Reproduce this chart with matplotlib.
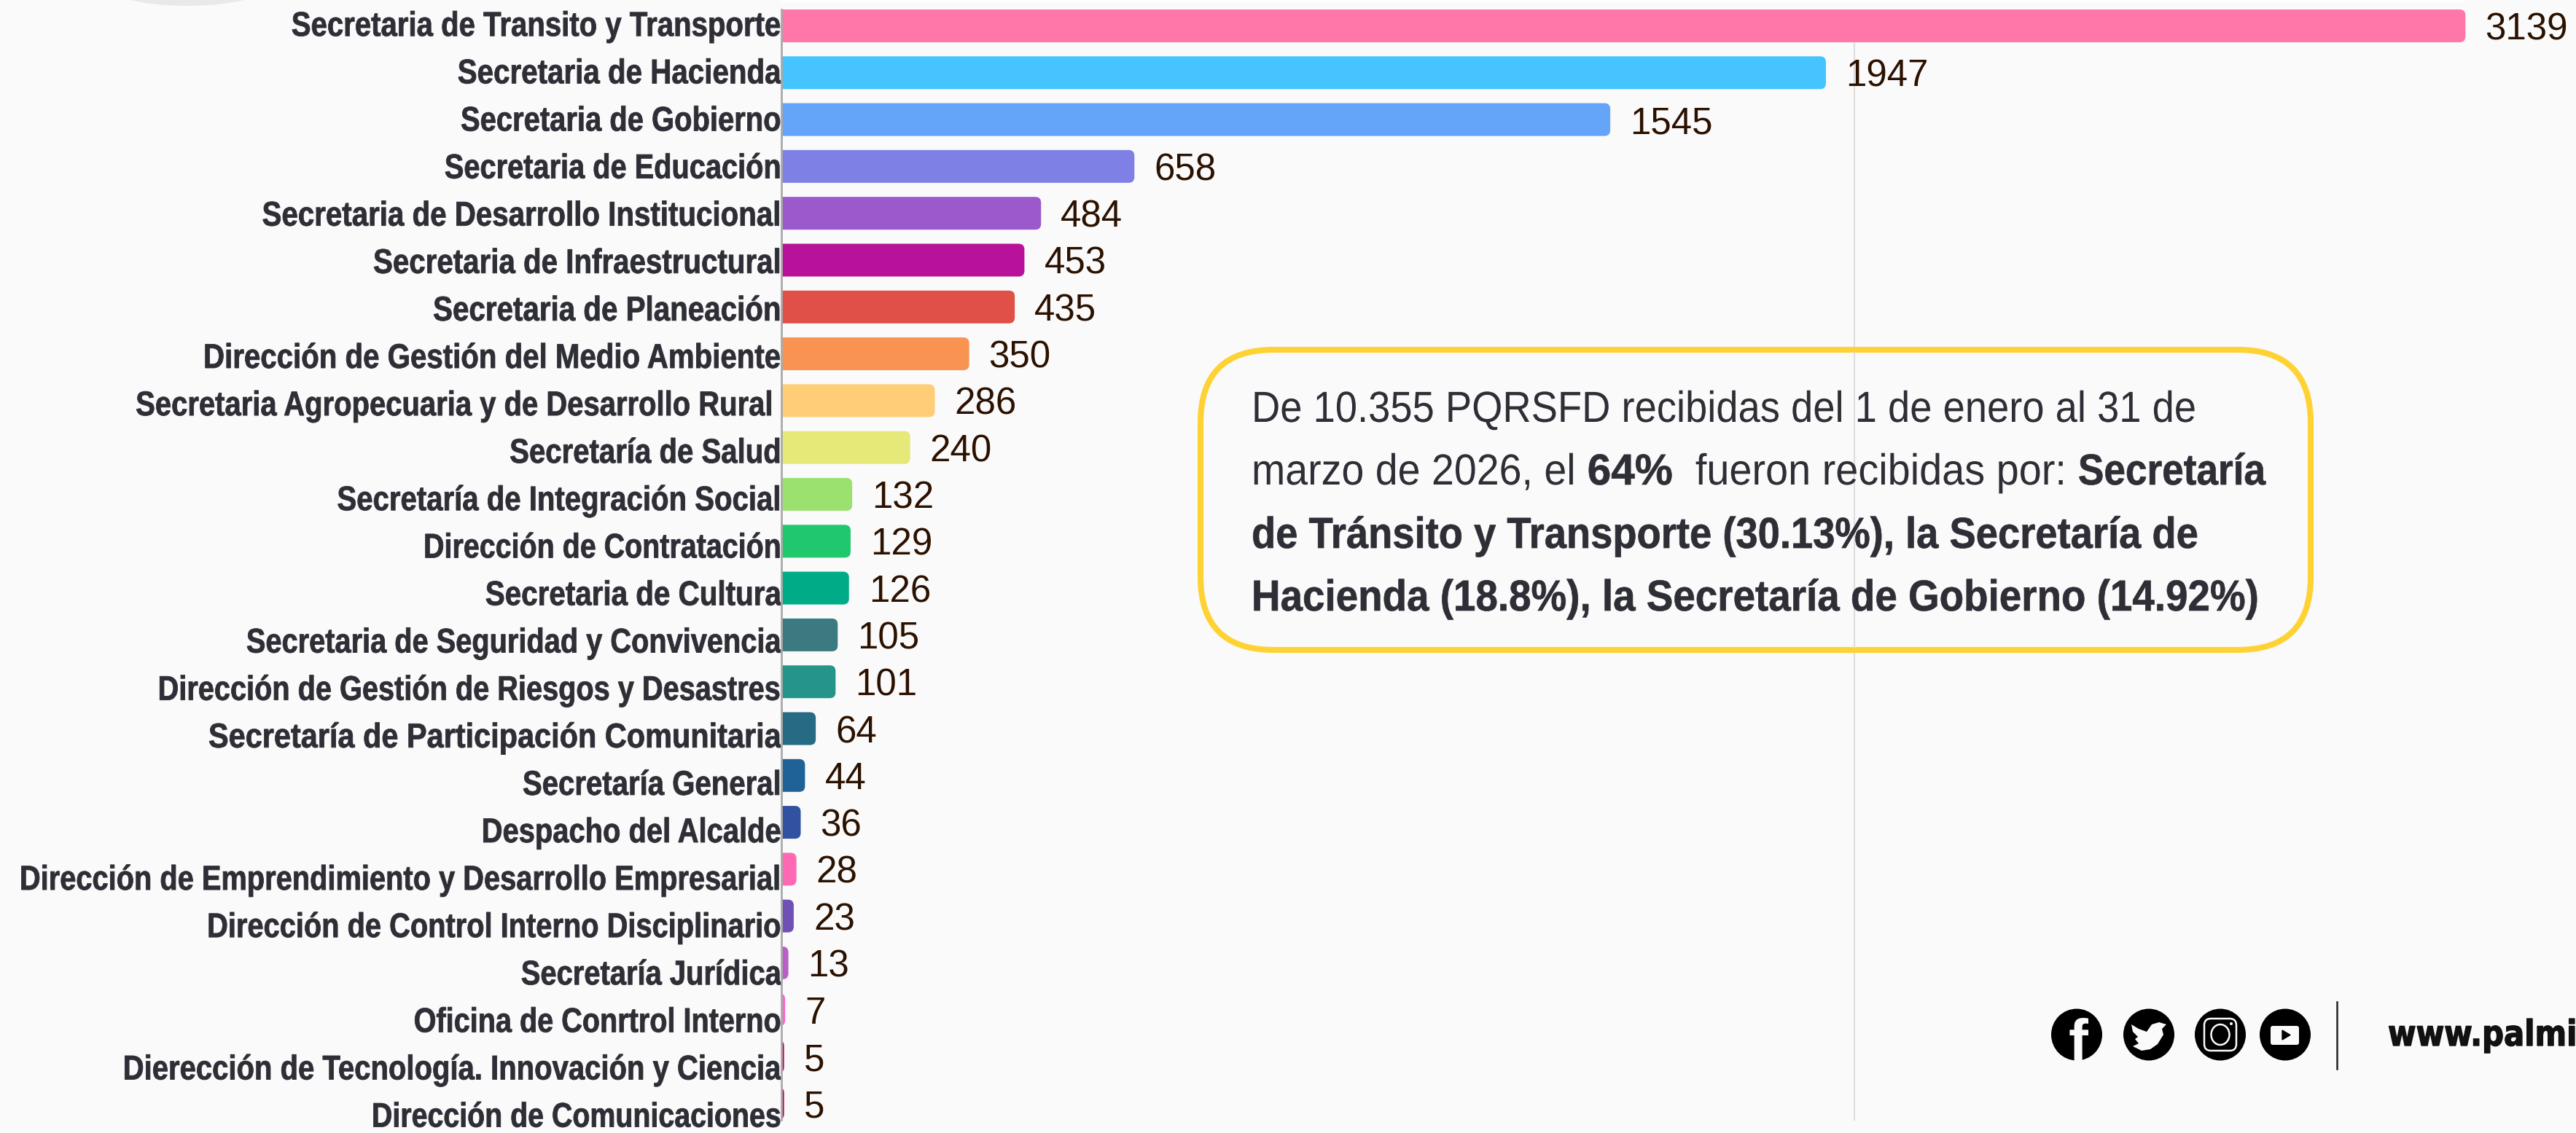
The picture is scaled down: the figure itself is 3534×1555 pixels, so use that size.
import matplotlib
matplotlib.use('Agg')
import matplotlib.pyplot as plt
from matplotlib.patches import FancyBboxPatch, Ellipse, Rectangle
from matplotlib.patheffects import AbstractPathEffect
from matplotlib.transforms import Affine2D

categories = [
    'Secretaria de Transito y Transporte', 'Secretaria de Hacienda',
    'Secretaria de Gobierno', 'Secretaria de Educación',
    'Secretaria de Desarrollo Institucional', 'Secretaria de Infraestructural',
    'Secretaria de Planeación', 'Dirección de Gestión del Medio Ambiente',
    'Secretaria Agropecuaria y de Desarrollo Rural', 'Secretaría de Salud',
    'Secretaría de Integración Social', 'Dirección de Contratación',
    'Secretaria de Cultura', 'Secretaria de Seguridad y Convivencia',
    'Dirección de Gestión de Riesgos y Desastres',
    'Secretaría de Participación Comunitaria', 'Secretaría General',
    'Despacho del Alcalde', 'Dirección de Emprendimiento y Desarrollo Empresarial',
    'Dirección de Control Interno Disciplinario', 'Secretaría Jurídica',
    'Oficina de Conrtrol Interno', 'Dierección de Tecnología. Innovación y Ciencia',
    'Dirección de Comunicaciones',
]
values = [3139, 1947, 1545, 658, 484, 453, 435, 350, 286, 240, 132, 129,
          126, 105, 101, 64, 44, 36, 28, 23, 13, 7, 5, 5]
bar_colors = [
    '#FF77A9', '#45C4FF', '#64A5F9', '#7F80E6', '#9B59CB', '#B8129A',
    '#E05048', '#F99352', '#FFCC77', '#E6E878', '#9BE16F', '#1FC86E',
    '#00AC87', '#3B7A80', '#25958A', '#266A84', '#1F6298', '#3152A0',
    '#FF69B4', '#7050B5', '#B85FC8', '#FF66CC', '#CC0066', '#CC0066',
]

W, H = 3534, 1555
BG = '#FAFAFA'
SANS = ['Liberation Sans', 'DejaVu Sans']
DARK = '#2E2E36'

# compresion horizontal de cada etiqueta, ajustada a su ancho en el original
label_squeeze = [0.850, 0.854, 0.846, 0.842, 0.853, 0.853, 0.854, 0.852,
                 0.847, 0.850, 0.850, 0.835, 0.855, 0.842, 0.841, 0.878,
                 0.850, 0.845, 0.843, 0.843, 0.845, 0.839, 0.848, 0.833]


class Stretch(AbstractPathEffect):
    """Comprime el texto en horizontal alrededor de un x de pantalla"""

    def __init__(self, k, anchor, dx=0, stroke=0):
        super().__init__()
        self.k = k
        self.anchor = anchor
        self.dx = dx
        self.stroke = stroke

    def draw_path(self, renderer, gc, tpath, affine, rgbFace=None):
        squeeze = Affine2D().translate(-self.anchor, 0).scale(self.k, 1).translate(self.anchor + self.dx, 0)
        gc0 = renderer.new_gc()
        gc0.copy_properties(gc)
        # un trazo fino compensa los palos que adelgaza la compresion
        gc0.set_linewidth(self.stroke)
        gc0.set_foreground(rgbFace)
        renderer.draw_path(gc0, tpath, affine + squeeze, rgbFace)
        gc0.restore()


fig = plt.figure(figsize=(W / 100, H / 100), dpi=100, facecolor=BG)

# eje con x=0 en el pixel 1072 y una barra cada 64.3 px
ax = fig.add_axes([1072 / W, 0, 1 - 1072 / W, 1], facecolor='none')
ax.set_xlim(0, (W - 1072) / 0.736)
ax.set_ylim((H - 35.5) / 64.3, -35.5 / 64.3)
for s in ax.spines.values():
    s.set_visible(False)
ax.set_xticks([])

# las etiquetas van un poco mas separadas que las barras
ax.set_yticks([i * 65.1 / 64.3 - 0.05 for i in range(len(categories))])
ax.set_yticklabels(categories, family=SANS, weight='bold', color=DARK, fontsize=34)
ax.tick_params(axis='y', length=0, pad=0)
for lab, k in zip(ax.get_yticklabels(), label_squeeze):
    # esta etiqueta queda un poco antes del eje en el original
    dx = -11 if lab.get_text().startswith('Secretaria Agropecuaria') else 0
    lab.set_path_effects([Stretch(k, 1072, dx, stroke=0.6)])

ax.axvline(2000, ymin=1 - 1537 / H, ymax=1 - 56 / H, color='#DDDDDD', lw=1.5, zorder=1)
ax.axvline(0, ymin=1 - 1537 / H, ymax=1 - 13 / H, color='#AAAAAA', lw=2, zorder=4, clip_on=False)

for i, (v, c) in enumerate(zip(values, bar_colors)):
    ax.add_patch(FancyBboxPatch((-20, i - 0.35), v + 20, 0.70,
                                boxstyle='round,pad=0,rounding_size=10.87',
                                mutation_aspect=0.0114, fc=c, ec='none', zorder=2))
    ax.annotate(str(v), (v, i), xytext=(27 * 0.72, 0), textcoords='offset points',
                family='Liberation Sans', fontsize=36.7, color='#2B1100',
                va='center_baseline', ha='left', annotation_clip=False, zorder=3)

# capa en pixeles para el cuadro y el pie
ov = fig.add_axes([0, 0, 1, 1], facecolor='none')
ov.set_xlim(0, W)
ov.set_ylim(H, 0)
ov.axis('off')

# restos del logo y franja blanca arriba
ov.add_patch(Ellipse((257, -25), 240, 66, fc='#E9E9E9', ec='none'))
ov.add_patch(Rectangle((1072, 0), 2309, 3, fc='white', ec='none'))

ov.add_patch(FancyBboxPatch((1647, 480), 1523, 412,
                            boxstyle='round,pad=0,rounding_size=100',
                            fc=BG, ec='#FFD233', lw=5.8, zorder=3))
# linea de la cuadricula por encima del cuadro
ax_line_x = 1072 + 2000 * 0.736
ov.plot([ax_line_x, ax_line_x], [484, 888], color='#DDDDDD', lw=1.5, zorder=4)

box_lines = [
    (579, [('De 10.355 PQRSFD recibidas del 1 de enero al 31 de', 'normal', 0.91)]),
    (665, [('marzo de 2026, el ', 'normal', 0.93), ('64%', 'bold', 0.98),
           ('  fueron recibidas por: ', 'normal', 0.935), ('Secretaría', 'bold', 0.89)]),
    (752, [('de Tránsito y Transporte (30.13%), la Secretaría de', 'bold', 0.91)]),
    (838, [('Hacienda (18.8%), la Secretaría de Gobierno (14.92%)', 'bold', 0.917)]),
]
rend = fig.canvas.get_renderer()
for base, parts in box_lines:
    x = 1717
    for txt, wt, k in parts:
        stroke = 0.5 if wt == 'bold' else 0
        t = ov.text(x, base, txt.replace(' ', '\u00a0'), family=SANS, weight=wt,
                    fontsize=43, color=DARK, va='baseline', ha='left', zorder=5,
                    path_effects=[Stretch(k, x, stroke=stroke)])
        x = x + t.get_window_extent(rend).width * k

# iconos de redes
icon_x = [2849, 2948, 3046, 3135]
for x0 in icon_x:
    ov.add_patch(Ellipse((x0, 1420), 70, 71, fc='black', ec='none'))
ov.text(2851, 1456, 'f', family='Liberation Sans', weight='bold', fontsize=58,
        color='#FAFAFA', ha='center', va='baseline', clip_on=True)
bird_x = [2924, 2934, 2945, 2952, 2962, 2972, 2966, 2968, 2960, 2950, 2938, 2926, 2934, 2929, 2933, 2926]
bird_y = [1406, 1412, 1416, 1406, 1403, 1406, 1412, 1420, 1433, 1440, 1442, 1436, 1432, 1426, 1423, 1416]
ov.fill(bird_x, bird_y, color='#FAFAFA', ec='none')
ov.add_patch(FancyBboxPatch((3024, 1398), 44, 44, boxstyle='round,pad=0,rounding_size=9',
                            fc='none', ec='#FAFAFA', lw=1.8))
ov.add_patch(Ellipse((3046, 1420), 25, 28, fc='none', ec='#FAFAFA', lw=1.8))
ov.add_patch(Ellipse((3061, 1405), 4, 4, fc='#FAFAFA', ec='none'))
ov.add_patch(FancyBboxPatch((3115, 1408), 39, 26, boxstyle='round,pad=0,rounding_size=3',
                            fc='#FAFAFA', ec='none'))
ov.fill([3131, 3131, 3142], [1414, 1427, 1420.5], color='black')
ov.plot([3206, 3206], [1375, 1467], color='#222222', lw=1.8)
ov.text(3276, 1435, 'www.palmi', family='DejaVu Sans', weight='bold', fontsize=35,
        color='#111111', ha='left', va='baseline', path_effects=[Stretch(0.86, 3276, stroke=1)])

fig.savefig('out.png', dpi=100, facecolor=BG)
